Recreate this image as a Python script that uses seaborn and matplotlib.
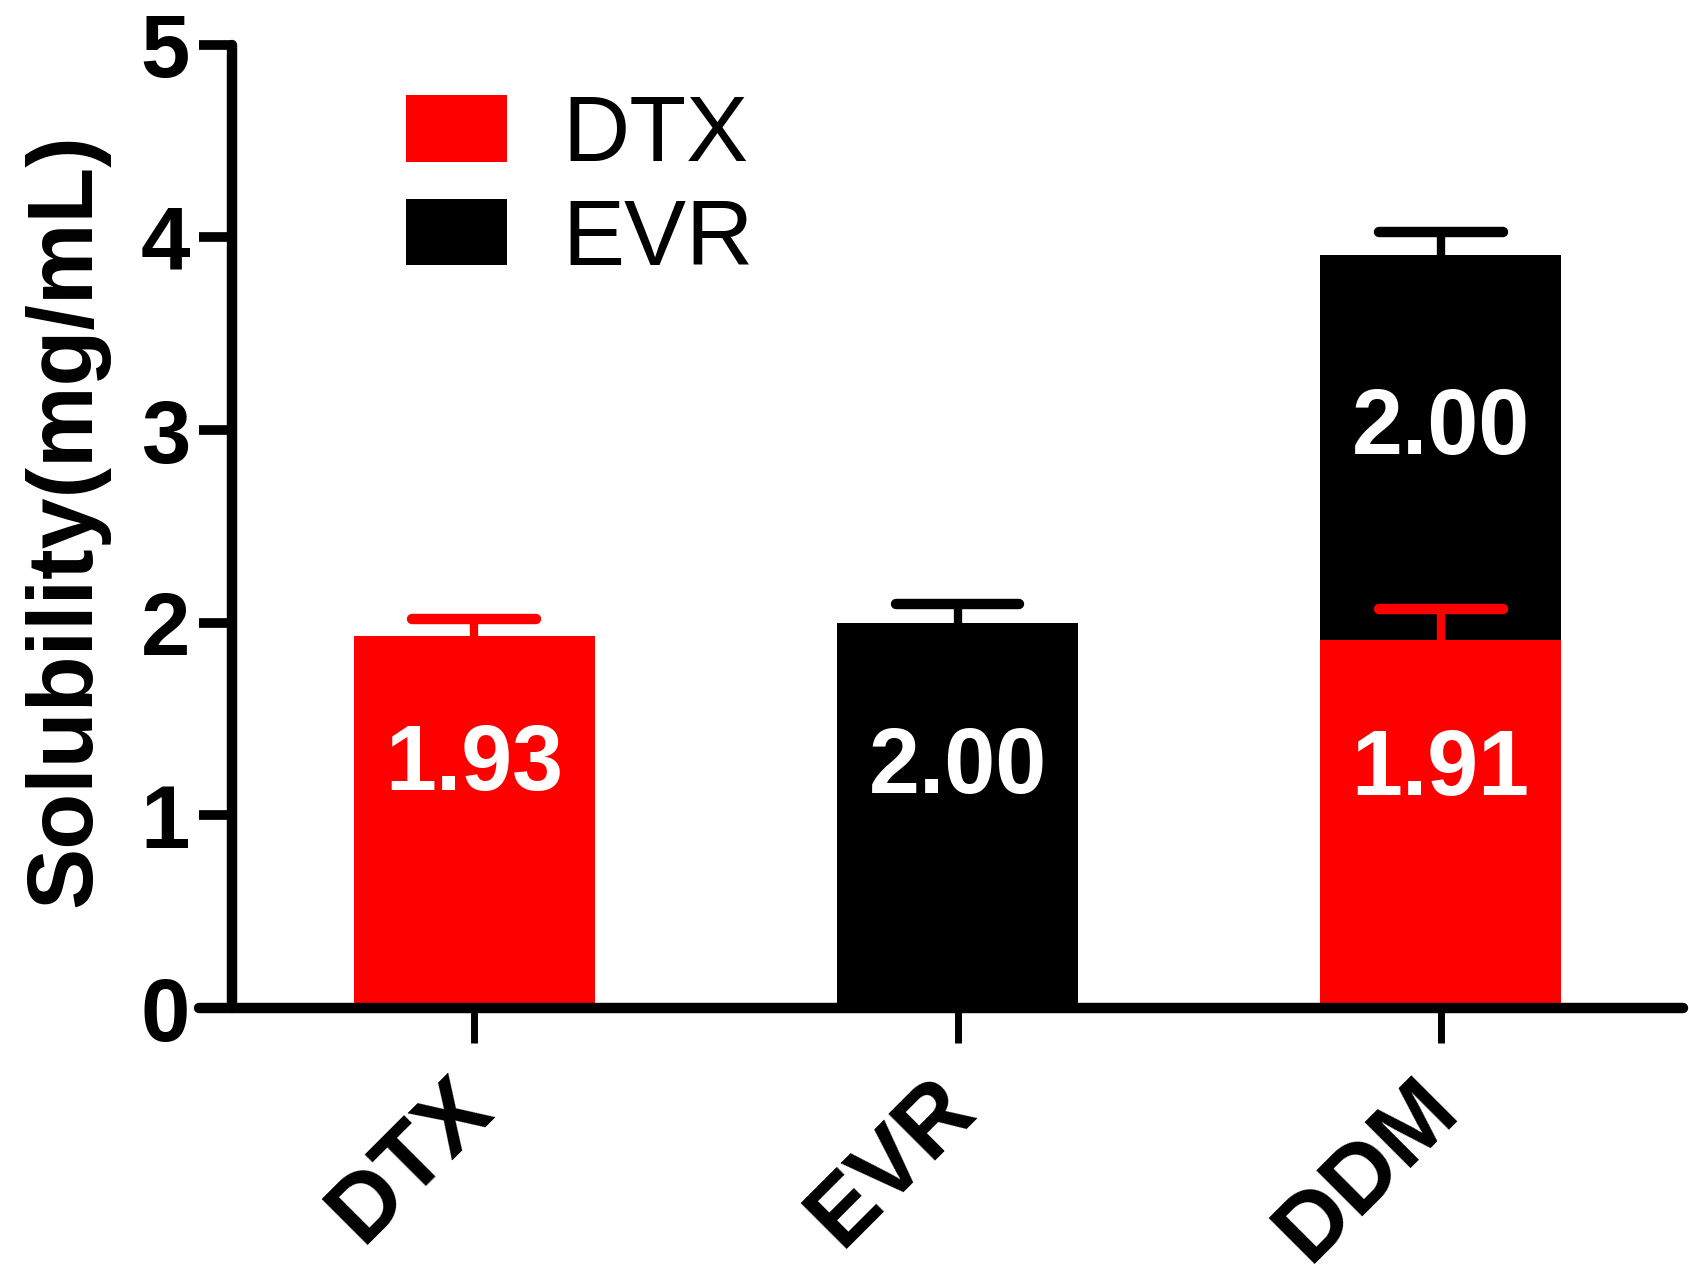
import matplotlib
matplotlib.use("Agg")
import matplotlib.pyplot as plt
import matplotlib.transforms as mtransforms
import seaborn as sns
import pandas as pd
from matplotlib.patches import Patch

# Solubility of each formulation, split by drug
groups = ["DTX", "EVR", "DDM"]
dtx_values = [1.93, 0.0, 1.91]
dtx_errors = [0.09, 0.0, 0.16]
evr_values = [0.0, 2.00, 2.00]
evr_errors = [0.0, 0.10, 0.12]
series_names = ["DTX", "EVR"]
series_colors = ["#ff0000", "#000000"]
y_ticks = [0, 1, 2, 3, 4, 5]
# vertical placement of the value text inside each segment (fraction of segment height)
label_frac = [0.65, 0.62, 0.645, 0.545]

sns.set_theme(style="ticks")
plt.rcParams["font.family"] = ["Liberation Sans", "DejaVu Sans"]
plt.rcParams.update({
    "text.color": "black", "axes.labelcolor": "black", "axes.edgecolor": "black",
    "xtick.color": "black", "ytick.color": "black",
})

rows = []
for g, d, de, e, ee in zip(groups, dtx_values, dtx_errors, evr_values, evr_errors):
    if d > 0:
        rows.append(dict(group=g, series="DTX", bottom=0.0, value=d, err=de))
    if e > 0:
        rows.append(dict(group=g, series="EVR", bottom=d, value=e, err=ee))
df = pd.DataFrame(rows)
df["top"] = df["bottom"] + df["value"]
color_of = dict(zip(series_names, series_colors))

fig = plt.figure(figsize=(16.9, 12.81), dpi=100)
ax = fig.add_axes([0.118, 0.213, 0.878, 0.752])

# stacked bars: upper segment drawn first, lower segment painted over it
for name in ["EVR", "DTX"]:
    sns.barplot(data=df[df["series"] == name], x="group", y="top", order=groups,
                color=color_of[name], saturation=1, width=0.5, errorbar=None,
                linewidth=0, ax=ax, zorder=2)

# one-sided error bars with rounded caps
cap_half = 0.128
for _, r in df.iterrows():
    x = groups.index(r["group"])
    c = color_of[r["series"]]
    ax.vlines(x, r["top"], r["top"] + r["err"], color=c, lw=6, zorder=3)
    ax.hlines(r["top"] + r["err"], x - cap_half, x + cap_half, color=c, lw=7.5,
              capstyle="round", zorder=3)

# value text inside the segments
for (_, r), f in zip(df.iterrows(), label_frac):
    x = groups.index(r["group"])
    ax.text(x, r["bottom"] + f * r["value"], f"{r['value']:.2f}", color="white",
            fontsize=66, fontweight="bold", ha="center", va="center", zorder=4)

# axis frame (spine position first: moving it rebuilds the ticks)
for s in ["top", "right"]:
    ax.spines[s].set_visible(False)
ax.spines["left"].set_position(("data", -0.502))
for s in ["left", "bottom"]:
    ax.spines[s].set_linewidth(7.5)
    ax.spines[s].set_capstyle("round")
    ax.spines[s].set_zorder(5)

ax.set_xlim(-0.569, 2.502)
ax.set_ylim(0, 5)
ax.tick_params(axis="y", length=24, width=7, pad=6)
ax.tick_params(axis="x", length=25, width=5, pad=14)
ax.set_yticks(y_ticks)
ax.set_yticklabels([str(t) for t in y_ticks], fontsize=64, fontweight="bold")
ax.set_xticks(range(len(groups)))
ax.set_xticklabels(groups, fontsize=68, fontweight="bold", rotation=45,
                   ha="right", va="top", rotation_mode="anchor")
# nudge the slanted category names to the left of their ticks
shift = mtransforms.ScaledTranslation(-28 / 100, 0, fig.dpi_scale_trans)
for lab in ax.get_xticklabels():
    lab.set_transform(lab.get_transform() + shift)
ax.set_xlabel("")
ax.set_ylabel("Solubility(mg/mL)", fontsize=66, fontweight="bold")
ax.yaxis.set_label_coords(-0.061, 0.507)

handles = [Patch(facecolor=c, edgecolor="none", label=n)
           for n, c in zip(series_names, series_colors)]
ax.legend(handles=handles, loc="upper left", bbox_to_anchor=(0.139, 0.949),
          frameon=False, fontsize=67, handlelength=1.09, handleheight=0.72,
          handletextpad=0.59, labelspacing=0.19, borderpad=0, borderaxespad=0)

fig.savefig("out.png", dpi=100, facecolor="white")
